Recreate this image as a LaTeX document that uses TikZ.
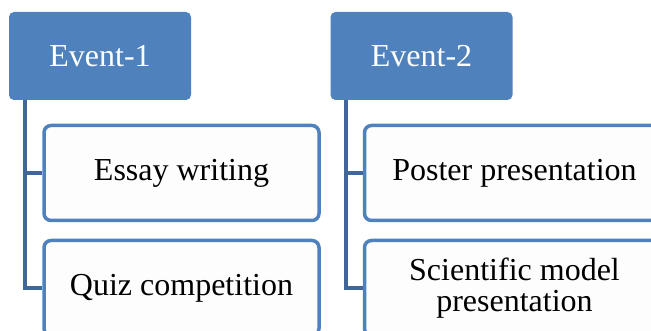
\documentclass[tikz,border=0pt]{standalone}
\usepackage{fontspec}
\setmainfont{Liberation Serif}
\definecolor{accent}{HTML}{4F81BD}
\definecolor{connc}{HTML}{41679A}
\definecolor{childfill}{HTML}{FDFDFD}
\begin{document}
\begin{tikzpicture}[x=1pt,y=-1pt,
  parentbox/.style={draw=none, fill=accent, rounded corners=5pt, text=white,
    font=\fontsize{32}{34}\selectfont, minimum width=182pt, minimum height=88pt, inner sep=0pt},
  childbox/.style={draw=accent, line width=3.5pt, fill=childfill, rounded corners=7pt,
    font=\fontsize{32}{31}\selectfont, align=center, minimum height=95pt, inner sep=0pt},
  conn/.style={draw=connc, line width=4pt}]
\useasboundingbox (0,0) rectangle (651,331);
\clip (0,0) rectangle (651,331);
\node[parentbox] (e1) at (100,56) {Event-1};
\node[parentbox] (e2) at (421.5,56) {Event-2};
\node[childbox, minimum width=275pt] (c11) at (181.5,173) {Essay writing};
\node[childbox, minimum width=275pt] (c12) at (181.5,288) {Quiz competition};
\node[childbox, minimum width=300pt] (c21) at (514.5,173) {Poster presentation};
\node[childbox, minimum width=300pt] (c22) at (514.5,288) {Scientific model\\presentation};
\coordinate (s1) at ([xshift=16pt]e1.south west);
\coordinate (s2) at ([xshift=16pt]e2.south west);
\draw[conn] (s1) |- (c11.west);
\draw[conn] (s1) |- (c12.west);
\draw[conn] (s2) |- (c21.west);
\draw[conn] (s2) |- (c22.west);
\end{tikzpicture}
\end{document}
